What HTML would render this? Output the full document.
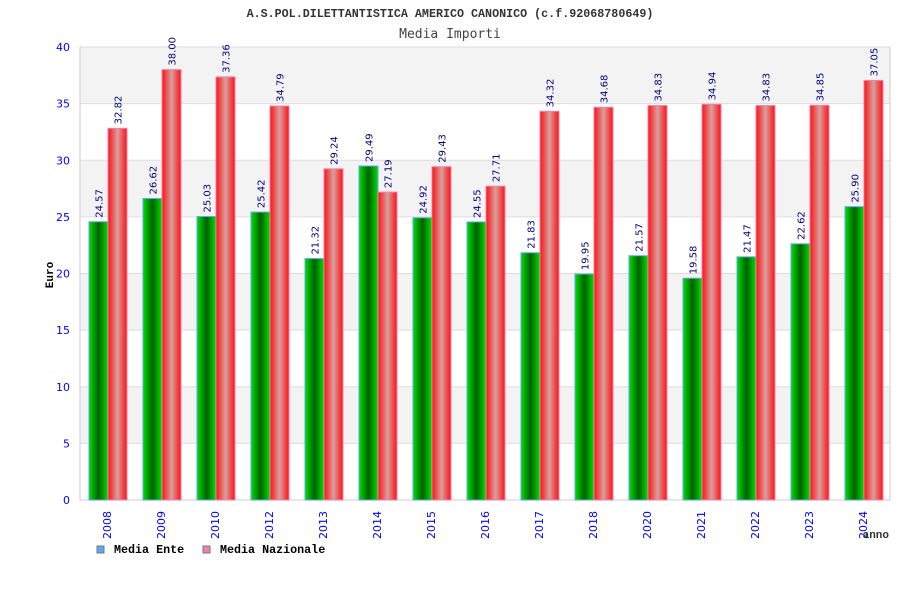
<!DOCTYPE html>
<html><head><meta charset="utf-8"><style>
body{margin:0;background:#fff;width:900px;height:600px;overflow:hidden}
svg{display:block}
</style></head><body>
<svg id="chart" width="900" height="600" xmlns="http://www.w3.org/2000/svg">
<defs>
<linearGradient id="gG" x1="0" x2="1" y1="0" y2="0"><stop offset="0" stop-color="#00e000"/><stop offset="0.5" stop-color="#006000"/><stop offset="1" stop-color="#00e000"/></linearGradient>
<linearGradient id="gR" x1="0" x2="1" y1="0" y2="0"><stop offset="0" stop-color="#ff1010"/><stop offset="0.5" stop-color="#d8a0a0"/><stop offset="1" stop-color="#ff1010"/></linearGradient>
</defs>
<text x="450" y="17" text-anchor="middle" font-family="Liberation Mono, monospace" font-weight="bold" font-size="11.7" fill="#333">A.S.POL.DILETTANTISTICA AMERICO CANONICO (c.f.92068780649)</text>
<text x="450" y="38" text-anchor="middle" font-family="DejaVu Sans Mono, monospace" font-size="13" fill="#444">Media Importi</text>
<g id="plot"></g>
<text transform="translate(53,275) rotate(-90)" text-anchor="middle" font-family="Liberation Mono, monospace" font-weight="bold" font-size="11" fill="#000">Euro</text>
<text x="889" y="538" text-anchor="end" font-family="Liberation Mono, monospace" font-weight="bold" font-size="11" fill="#333">anno</text>
<g font-family="Liberation Mono, monospace" font-weight="bold" font-size="11.7">
<rect x="97" y="546" width="7" height="7" fill="#5aa8f0" stroke="#777"/>
<text x="114" y="553">Media Ente</text>
<rect x="203" y="546" width="7" height="7" fill="#f080b0" stroke="#777"/>
<text x="220" y="553">Media Nazionale</text>
</g>
</svg>
<script>
const categories=["2008","2009","2010","2012","2013","2014","2015","2016","2017","2018","2020","2021","2022","2023","2024"];
const enteValues=[24.57,26.62,25.03,25.42,21.32,29.49,24.92,24.55,21.83,19.95,21.57,19.58,21.47,22.62,25.90];
const nazValues=[32.82,38.00,37.36,34.79,29.24,27.19,29.43,27.71,34.32,34.68,34.83,34.94,34.83,34.85,37.05];
const yTicks=[0,5,10,15,20,25,30,35,40];
const NS="http://www.w3.org/2000/svg";
const L=80,R=890,T=47,B=500,yMax=40;
const y=v=>B-(v/yMax)*(B-T);
const step=(R-L)/categories.length;
const xc=i=>L+step*(i+0.5);
const g=document.getElementById('plot');
function mk(t,a){const e=document.createElementNS(NS,t);for(const k in a)e.setAttribute(k,a[k]);g.appendChild(e);return e;}
for(let i=0;i<yTicks.length-1;i++){
  if(i%2===1){const r=mk('rect',{x:L,y:y(yTicks[i+1]),width:R-L,height:y(yTicks[i])-y(yTicks[i+1]),fill:'#f3f3f3'});
  
  }
}
yTicks.forEach(v=>{
  const l=mk('line',{x1:L,x2:R,y1:y(v),y2:y(v),stroke:'#ddd'});
  
  
  const t=mk('text',{x:70,y:y(v)+4,'text-anchor':'end','font-family':'DejaVu Sans, sans-serif','font-size':'11',fill:'#00f'});
  t.textContent=v;
  
  
});
const ax=mk('path',{d:`M${L},${T}V${B}H${R}V${T}`,fill:'none',stroke:'#ccc'});


function bar(x,v,fill,stroke,name){
  const r=mk('rect',{x:x,y:y(v),width:19,height:B-y(v),fill:fill,stroke:stroke,'stroke-width':'1'});
  
  
  const t=mk('text',{transform:`translate(${x+13.5},${y(v)-4}) rotate(-90)`,'font-family':'DejaVu Sans, sans-serif','font-size':'10',fill:'#000080'});
  t.textContent=v.toFixed(2);
  
  
}
categories.forEach((c,i)=>{
  const cx=xc(i);
  bar(cx-18,enteValues[i],'url(#gG)','#5aa8f0','bar-ente-'+c);
  bar(cx+1,nazValues[i],'url(#gR)','#f080b0','bar-nazionale-'+c);
  const t=mk('text',{transform:`translate(${cx+4},${539}) rotate(-90)`,'font-family':'DejaVu Sans, sans-serif','font-size':'11',fill:'#00f'});
  t.textContent=c;
  
  
});
</script>
</body></html>
